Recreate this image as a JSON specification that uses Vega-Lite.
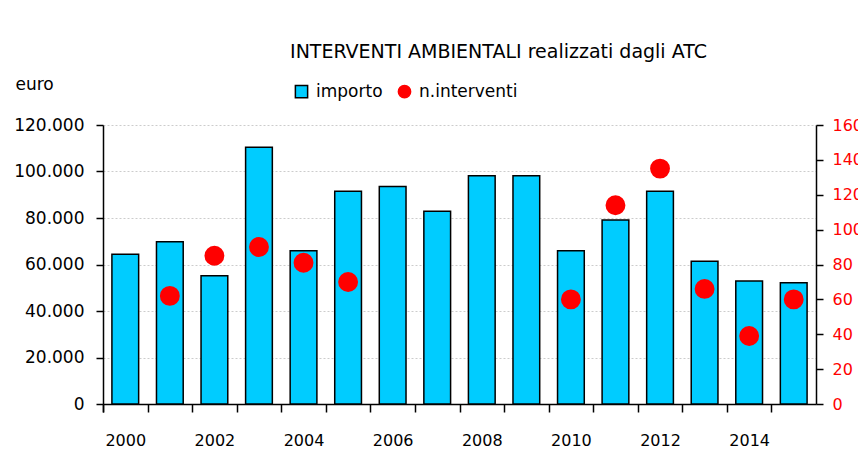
{
  "$schema": "https://vega.github.io/schema/vega-lite/v6.json",
  "width": 713,
  "height": 279,
  "autosize": {"type": "none"},
  "padding": {"left": 103, "top": 125, "right": 60, "bottom": 62},
  "background": "white",
  "title": {
    "text": "INTERVENTI AMBIENTALI realizzati dagli ATC",
    "anchor": "middle",
    "dx": 39,
    "offset": -2,
    "fontSize": 19,
    "fontWeight": "normal",
    "font": "DejaVu Sans",
    "color": "black",
    "baseline": "alphabetic"
  },
  "config": {
    "font": "DejaVu Sans",
    "view": {"stroke": null}
  },
  "data": {
    "values": [
      {"anno": 2000, "importo": 64400, "interventi": null},
      {"anno": 2001, "importo": 69800, "interventi": 62},
      {"anno": 2002, "importo": 55200, "interventi": 85},
      {"anno": 2003, "importo": 110400, "interventi": 90},
      {"anno": 2004, "importo": 65900, "interventi": 81},
      {"anno": 2005, "importo": 91500, "interventi": 70},
      {"anno": 2006, "importo": 93600, "interventi": null},
      {"anno": 2007, "importo": 82900, "interventi": null},
      {"anno": 2008, "importo": 98200, "interventi": null},
      {"anno": 2009, "importo": 98200, "interventi": null},
      {"anno": 2010, "importo": 65900, "interventi": 60},
      {"anno": 2011, "importo": 79100, "interventi": 114},
      {"anno": 2012, "importo": 91500, "interventi": 135},
      {"anno": 2013, "importo": 61400, "interventi": 66},
      {"anno": 2014, "importo": 52900, "interventi": 39},
      {"anno": 2015, "importo": 52200, "interventi": 60}
    ]
  },
  "encoding": {
    "x": {
      "field": "anno",
      "type": "ordinal",
      "scale": {"paddingInner": 0.4, "paddingOuter": 0.2},
      "axis": {
        "title": null,
        "labelAngle": 0,
        "labelExpr": "datum.value % 2 == 0 ? datum.label : ''",
        "bandPosition": 0,
        "tickExtra": true,
        "tickOffset": -8.9125,
        "labelOffset": 8.9125,
        "tickSize": 8,
        "tickColor": "black",
        "tickWidth": 1.5,
        "domainColor": "black",
        "domainWidth": 1.5,
        "labelFontSize": 16,
        "labelColor": "black",
        "labelPadding": 20
      }
    }
  },
  "layer": [
    {
      "mark": {"type": "bar", "strokeWidth": 1.5},
      "encoding": {
        "y": {
          "field": "importo",
          "type": "quantitative",
          "scale": {"domain": [0, 120000]},
          "axis": {
            "orient": "left",
            "title": "euro",
            "titleAngle": 0,
            "titleAlign": "left",
            "titleBaseline": "alphabetic",
            "titleX": -88,
            "titleY": -36,
            "titleFontSize": 17,
            "titleFontWeight": "normal",
            "titleColor": "black",
            "values": [0, 20000, 40000, 60000, 80000, 100000, 120000],
            "labelExpr": "replace(format(datum.value, ','), ',', '.')",
            "labelFontSize": 17,
            "labelColor": "black",
            "labelPadding": 12,
            "tickSize": 7,
            "tickColor": "black",
            "tickWidth": 1.5,
            "domainColor": "black",
            "domainWidth": 1.5,
            "grid": true,
            "gridColor": "#cccccc",
            "gridDash": [2, 2],
            "gridWidth": 1
          }
        },
        "color": {
          "datum": "importo",
          "type": "nominal",
          "scale": {"domain": ["importo", "n.interventi"], "range": ["#00CCFF", "#FF0000"]},
          "legend": {
            "title": null,
            "orient": "none",
            "legendX": 190,
            "legendY": -42,
            "direction": "horizontal",
            "columns": 2,
            "labelFontSize": 17,
            "labelColor": "black",
            "symbolSize": 150,
            "symbolStrokeWidth": 1.5,
            "columnPadding": 12,
            "labelOffset": 6
          }
        },
        "stroke": {
          "datum": "importo",
          "type": "nominal",
          "scale": {"domain": ["importo", "n.interventi"], "range": ["black", "#FF0000"]}
        }
      }
    },
    {
      "mark": {"type": "point", "filled": true, "size": 320, "opacity": 1},
      "encoding": {
        "y": {
          "field": "interventi",
          "type": "quantitative",
          "scale": {"domain": [0, 160]},
          "axis": {
            "orient": "right",
            "title": null,
            "values": [0, 20, 40, 60, 80, 100, 120, 140, 160],
            "labelFontSize": 16,
            "labelColor": "#FF0000",
            "labelPadding": 9,
            "tickSize": 7,
            "tickColor": "black",
            "tickWidth": 1.5,
            "domainColor": "black",
            "domainWidth": 1.5,
            "grid": false
          }
        },
        "color": {"datum": "n.interventi", "type": "nominal"},
        "stroke": {"datum": "n.interventi", "type": "nominal"},
        "shape": {
          "datum": "n.interventi",
          "type": "nominal",
          "scale": {"domain": ["importo", "n.interventi"], "range": ["square", "circle"]}
        }
      }
    }
  ],
  "resolve": {"scale": {"y": "independent"}}
}
